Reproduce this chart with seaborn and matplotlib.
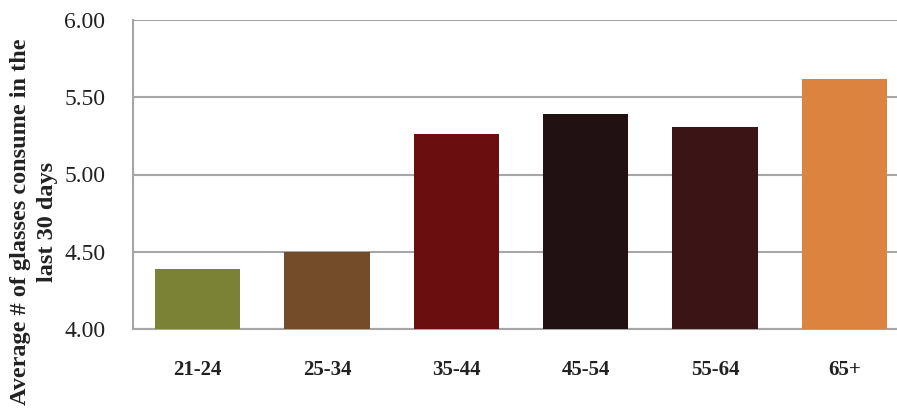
import matplotlib
matplotlib.use("Agg")
import matplotlib.pyplot as plt
import seaborn as sns
import pandas as pd

age_groups = ["21-24", "25-34", "35-44", "45-54", "55-64", "65+"]
avg_glasses = [4.39, 4.50, 5.26, 5.39, 5.31, 5.62]
bar_colors = ["#7B8236", "#744C2A", "#6B0E10", "#211112", "#3B1415", "#DB843F"]
y_ticks = [4.00, 4.50, 5.00, 5.50, 6.00]

df = pd.DataFrame({"age": age_groups, "avg": avg_glasses})

sns.set_theme(style="white")
plt.rcParams["font.family"] = ["Liberation Serif", "DejaVu Serif"]

W, H = 897, 412
fig = plt.figure(figsize=(W / 100, H / 100), dpi=100)
# plot area: left edge at 133px, spans 6 category slots of ~129px
ax = fig.add_axes([133 / W, (H - 329) / H, 776 / W, 309 / H])

sns.barplot(data=df, x="age", y="avg", hue="age", palette=bar_colors,
            legend=False, width=0.66, saturation=1, linewidth=0,
            ax=ax, zorder=3)

ax.set_ylim(4.0, 6.0)
ax.set_xlim(-0.5, 5.5)
ax.set_yticks(y_ticks)
ax.set_yticklabels([f"{v:.2f}" for v in y_ticks], fontsize=17, color="#222222")
ax.set_xlabel("")
ax.set_ylabel("")
for lbl in ax.get_xticklabels():
    lbl.set_fontweight("bold")
    lbl.set_fontsize(15)
    lbl.set_color("#222222")
ax.tick_params(axis="x", pad=22, length=0)
ax.tick_params(axis="y", pad=20, length=0)

fig.text(34 / W, 1 - 222 / H,
         "Average # of glasses consume in the\nlast 30 days",
         rotation=90, ha="center", va="center", multialignment="center",
         fontsize=17.5, fontweight="bold", color="#222222", linespacing=1.35)

ax.yaxis.grid(True, color="#A6A6A6", linewidth=1.5, zorder=0)
ax.set_axisbelow(True)
for side in ["top", "right"]:
    ax.spines[side].set_visible(False)
for side in ["left", "bottom"]:
    ax.spines[side].set_color("#A6A6A6")
    ax.spines[side].set_linewidth(1.5)

fig.savefig("out.png", dpi=100)
